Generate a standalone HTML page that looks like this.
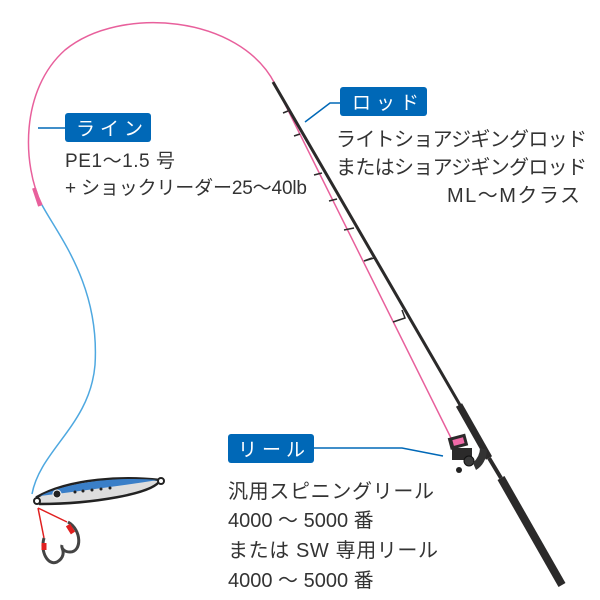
<!DOCTYPE html>
<html><head><meta charset="utf-8"><style>
html,body{margin:0;padding:0;background:#fff}
svg{display:block}
text{font-family:"Liberation Sans","Noto Sans CJK JP",sans-serif;fill:#333}
.lb{fill:#fff;font-size:19px;letter-spacing:5px}
</style></head><body>
<svg width="600" height="600" viewBox="0 0 600 600" xmlns="http://www.w3.org/2000/svg">
<!-- pink line -->
<path d="M452,440 L275,84 C240,15 120,5 65,50 C20,90 22,165 42,205" fill="none" stroke="#e8609c" stroke-width="1.5"/>
<path d="M34,188 L40,206" stroke="#e8609c" stroke-width="4"/>
<!-- blue line -->
<path d="M42,205 C58,235 100,285 95,365 C90,425 40,450 32,494" fill="none" stroke="#4ea8e0" stroke-width="1.5"/>
<!-- rod -->
<line x1="273" y1="82" x2="460" y2="405" stroke="#2b2a2a" stroke-width="3"/>
<line x1="459" y1="405" x2="489" y2="458" stroke="#2b2a2a" stroke-width="7"/>
<line x1="489" y1="458" x2="501" y2="478" stroke="#2b2a2a" stroke-width="4"/>
<line x1="501" y1="478" x2="562" y2="585" stroke="#2b2a2a" stroke-width="8"/>
<!-- guides -->
<g stroke="#2b2a2a" stroke-width="1.5" fill="none">
<path d="M288,111 l-5,2"/><path d="M300,134 l-6,2"/><path d="M322,173 l-8,2"/><path d="M337,199 l-8,2"/><path d="M354,228 l-10,2"/>
<path d="M372,258 l-8,3 l10,-3 l-3,-6"/><path d="M405,318 l-12,4 l12,-4 l-3,-8"/>
</g>
<!-- reel -->
<g>
<rect x="449" y="436" width="18" height="12" fill="#2b2a2a" transform="rotate(-15 457 442)"/>
<rect x="453" y="439" width="11" height="6" fill="#f06aa8" transform="rotate(-15 457 442)"/>
<rect x="452" y="448" width="20" height="12" fill="#2b2a2a"/>
<circle cx="469" cy="461" r="5" fill="#3a3a3a" stroke="#111"/>
<path d="M473,463 Q480,456 480,448 L487,450 Q486,464 476,470Z" fill="#333"/>
<circle cx="459" cy="470" r="3" fill="#222"/>
</g>
<!-- lure -->
<path d="M37,497 C70,478 125,476 160,480 C155,494 90,504 40,504 Z" fill="#ddd" stroke="#222" stroke-width="2.5"/>
<path d="M40,496 C72,480 125,477 158,480 C120,486 80,491 40,496Z" fill="#3a7fc8"/>
<circle cx="161" cy="481" r="3" fill="#fff" stroke="#222" stroke-width="2"/>
<circle cx="57" cy="494" r="4" fill="#222" stroke="#fff" stroke-width="1"/>
<g fill="#222"><circle cx="75" cy="492" r="1.5"/><circle cx="83" cy="491" r="1.5"/><circle cx="92" cy="490" r="1.5"/><circle cx="101" cy="489" r="1.5"/><circle cx="110" cy="488" r="1.5"/></g>
<circle cx="37" cy="501" r="3" fill="#fff" stroke="#222" stroke-width="2"/>
<path d="M38,508 L67,522 M38,508 L44,538" stroke="#e02020" stroke-width="1.5"/>
<path d="M68,522 C82,530 82,552 70,552 C64,552 61,548 62,545" fill="none" stroke="#444" stroke-width="3"/>
<path d="M44,538 C40,552 48,566 57,562 C64,558 64,552 62,548" fill="none" stroke="#444" stroke-width="3"/>
<path d="M68,525 l5,8" stroke="#e02020" stroke-width="5"/>
<path d="M44,543 l0,7" stroke="#e02020" stroke-width="5"/>
<!-- leaders -->
<line x1="38" y1="128" x2="65" y2="128" stroke="#0068b7" stroke-width="1.5"/>
<path d="M305,122 L330,103 L340,103" fill="none" stroke="#0068b7" stroke-width="1.5"/>
<path d="M314,448 L402,448 L443,456" fill="none" stroke="#0068b7" stroke-width="1.5"/>
<!-- labels -->
<rect x="65" y="113" width="86" height="29" rx="3" fill="#0068b7"/>
<text class="lb" x="76" y="135">ライン</text>
<rect x="340" y="87" width="87" height="29" rx="3" fill="#0068b7"/>
<text class="lb" x="352" y="109">ロッド</text>
<rect x="228" y="434" width="86" height="29" rx="3" fill="#0068b7"/>
<text class="lb" x="238" y="456">リール</text>
<text x="65" y="167" font-size="19" textLength="110">PE1～1.5 号</text>
<text x="65" y="194" font-size="19" textLength="242">+ ショックリーダー25～40lb</text>
<text x="336" y="146" font-size="20" textLength="251">ライトショアジギングロッド</text>
<text x="336" y="174" font-size="20" textLength="251">またはショアジギングロッド</text>
<text x="447" y="202" font-size="20" textLength="133">ML～Mクラス</text>
<text x="228" y="498" font-size="20" textLength="206">汎用スピニングリール</text>
<text x="228" y="527" font-size="20">4000 ～ 5000 番</text>
<text x="228" y="557" font-size="20" textLength="210">または SW 専用リール</text>
<text x="228" y="587" font-size="20">4000 ～ 5000 番</text>
</svg>
</body></html>
